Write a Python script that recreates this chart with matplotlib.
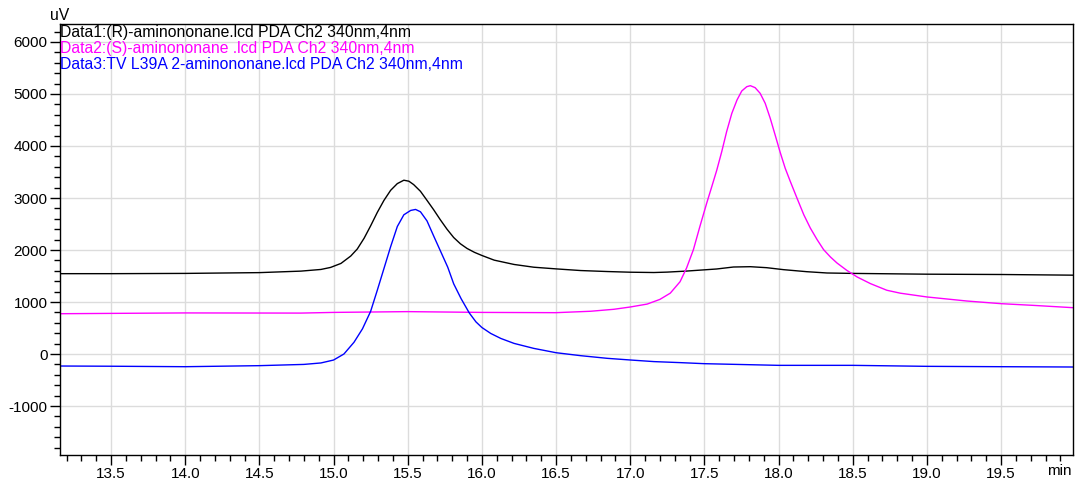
import matplotlib
matplotlib.use("Agg")
import matplotlib.pyplot as plt
from matplotlib.ticker import MultipleLocator, FormatStrFormatter

plt.rcParams['font.family'] = ['Liberation Sans', 'DejaVu Sans']
plt.rcParams['axes.unicode_minus'] = False

# Data1: (R)-aminononane  (time in min, signal in uV)
t_r = [13.16, 13.5, 14.0, 14.5, 14.78, 14.915, 14.98, 15.05, 15.116, 15.16,
       15.206, 15.25, 15.295, 15.34, 15.385, 15.43, 15.474, 15.508, 15.54, 15.586,
       15.63, 15.675, 15.72, 15.765, 15.81, 15.855, 15.9, 15.95, 16.0, 16.083,
       16.217, 16.35, 16.5, 16.666, 16.845, 17.0, 17.16, 17.25, 17.38, 17.583,
       17.696, 17.81, 17.92, 18.034, 18.19, 18.327, 18.5, 19.0, 19.5, 19.99]
v_r = [1545, 1545, 1550, 1565, 1594, 1626, 1665, 1742, 1884, 2019,
       2226, 2464, 2723, 2955, 3148, 3277, 3342, 3323, 3258, 3129,
       2955, 2774, 2581, 2400, 2240, 2120, 2030, 1955, 1895, 1805,
       1722, 1669, 1637, 1605, 1586, 1573, 1567, 1575, 1595, 1635,
       1673, 1679, 1660, 1622, 1583, 1558, 1550, 1535, 1529, 1516]

# Data2: (S)-aminononane
t_s = [13.16, 14.0, 14.78, 15.0, 15.5, 16.0, 16.5, 16.733, 16.89, 17.0,
       17.114, 17.2, 17.27, 17.336, 17.38, 17.426, 17.47, 17.516, 17.55, 17.583,
       17.617, 17.65, 17.685, 17.72, 17.752, 17.786, 17.81, 17.842, 17.876, 17.91,
       17.944, 17.977, 18.011, 18.045, 18.079, 18.124, 18.17, 18.214, 18.26, 18.304,
       18.35, 18.394, 18.46, 18.53, 18.62, 18.73, 18.82, 19.0, 19.27, 19.5,
       19.72, 19.99]
v_s = [775, 790, 787, 800, 815, 800, 795, 822, 860, 904,
       960, 1050, 1170, 1390, 1654, 2006, 2455, 2904, 3220, 3530,
       3891, 4276, 4628, 4885, 5058, 5141, 5160, 5122, 5013, 4821,
       4532, 4212, 3878, 3571, 3320, 3000, 2679, 2423, 2199, 2006,
       1865, 1750, 1609, 1481, 1353, 1226, 1170, 1097, 1019, 968,
       935, 890]

# Data3: TV L39A 2-aminononane
t_tv = [13.16, 13.5, 14.0, 14.5, 14.8, 14.915, 15.0, 15.07, 15.138, 15.195,
        15.25, 15.295, 15.34, 15.385, 15.43, 15.474, 15.52, 15.553, 15.586, 15.63,
        15.675, 15.724, 15.77, 15.81, 15.86, 15.915, 15.96, 16.0, 16.06, 16.128,
        16.217, 16.35, 16.5, 16.666, 16.845, 17.0, 17.16, 17.34, 17.5, 18.0,
        18.5, 19.0, 19.5, 19.99]
v_tv = [-231, -235, -244, -224, -200, -172, -116, 0, 226, 484,
        820, 1226, 1645, 2065, 2452, 2677, 2761, 2780, 2735, 2560,
        2270, 1960, 1669, 1350, 1064, 790, 618, 510, 395, 299,
        204, 108, 25, -32, -83, -115, -146, -166, -186, -218,
        -218, -237, -244, -250]

legend_lines = ["Data1:(R)-aminononane.lcd PDA Ch2 340nm,4nm",
                "Data2:(S)-aminononane .lcd PDA Ch2 340nm,4nm",
                "Data3:TV L39A 2-aminononane.lcd PDA Ch2 340nm,4nm"]
colors = ["#000000", "#ff00ff", "#0000ff"]

fig = plt.figure(figsize=(10.75, 4.84), dpi=100)
ax = fig.add_axes([60/1075, 29/484, 1013/1075, 431/484])

ax.plot(t_r, v_r, color=colors[0], lw=1.0)
ax.plot(t_s, v_s, color=colors[1], lw=1.0)
ax.plot(t_tv, v_tv, color=colors[2], lw=1.0)

ax.set_xlim(13.156, 19.985)
ax.set_ylim(-1942, 6346)

ax.xaxis.set_major_locator(MultipleLocator(0.5))
ax.xaxis.set_minor_locator(MultipleLocator(0.1))
ax.xaxis.set_major_formatter(FormatStrFormatter('%.1f'))
ax.yaxis.set_major_locator(MultipleLocator(1000))
ax.yaxis.set_minor_locator(MultipleLocator(200))

ax.tick_params(axis='both', which='major', length=7, width=1, labelsize=11, pad=2)
ax.tick_params(axis='both', which='minor', length=4, width=1)
ax.grid(True, which='major', color='#dcdcdc', lw=1)
ax.set_axisbelow(True)
for s in ax.spines.values():
    s.set_linewidth(1)

for i, (txt, c) in enumerate(zip(legend_lines, colors)):
    ax.text(0.0, 1.0 - 0.002 - i * 0.037, txt, transform=ax.transAxes, color=c,
            fontsize=11.3, ha='left', va='top')

fig.text(50/1075, 1 - 16/484, "uV", fontsize=11.3, ha='left', va='center')
fig.text(1072/1075, 1 - 471/484, "min", fontsize=11, ha='right', va='center')

fig.savefig("out.png", dpi=100)
